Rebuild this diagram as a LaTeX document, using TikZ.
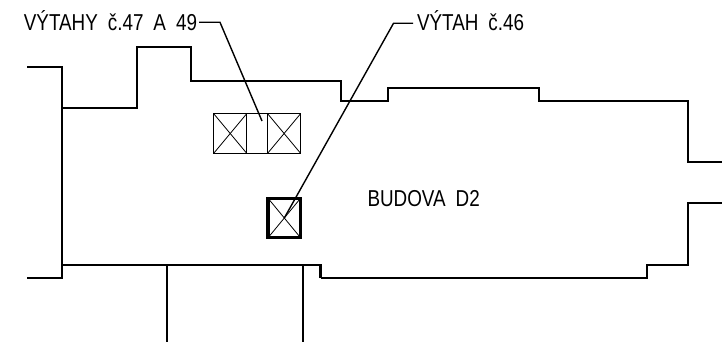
\documentclass[tikz,border=0pt]{standalone}
\usepackage{fontspec}
\setmainfont[FakeStretch=0.82,WordSpace=1.9]{Liberation Sans}

\begin{document}
\begin{tikzpicture}[
	x=1pt, y=-1pt
	,wall/.style={line width=2.8pt, black}
	,inner/.style={line width=2.3pt, black}
	,leader/.style={line width=1.4pt, black}
	,lbl/.style={font=\fontsize{23}{23}\selectfont, inner sep=0pt, outer sep=0pt}
	,shaft/.style={draw, line width=.9pt, rectangle, inner sep=0pt, outer sep=0pt, minimum height=40pt}
	,lift/.style={shaft, minimum width=33.3pt, path picture={
		\draw [line width=.8pt] (path picture bounding box.north west) -- (path picture bounding box.south east);
		\draw [line width=.8pt] (path picture bounding box.south west) -- (path picture bounding box.north east);
	}}
]
	\useasboundingbox (0,0) rectangle (722,342);

	% outer walls
	\draw [wall] (27,67) -- (62,67) -- (62,278) -- (27,278);
	\draw [wall] (62,108) -- (137,108) -- (137,47) -- (191,47) -- (191,81) -- (341,81) -- (341,101)
		-- (388,101) -- (388,88) -- (539,88) -- (539,101) -- (688,101) -- (688,162) -- (722,162);
	\draw [wall] (722,203) -- (688,203) -- (688,265) -- (647,265) -- (647,278) -- (320.5,278);
	\draw [inner] (320.5,278) -- (320.5,265) -- (62,265);
	\draw [wall] (167,265) -- (167,342);
	\draw [inner] (303,265) -- (303,342);

	% lifts
	\node [lift] (L47) at (230.2,133.5) {};
	\node [shaft, minimum width=20.8pt] (Gap) at (257.1,133.5) {};
	\node [lift] (L49) at (284.1,133.5) {};
	\node [lift, line width=3.4pt, minimum width=32.5pt, minimum height=39.5pt] (L46) at (284.3,218) {};

	% labels
	\node [lbl, anchor=base east] (T47) at (197,31) {VÝTAHY č.47 A 49};
	\node [lbl, anchor=base west] (T46) at (417,31) {VÝTAH č.46};
	\node [lbl, anchor=base west] (TD2) at (367.5,206) {BUDOVA D2};

	% leaders
	\coordinate (E47) at (262,121);
	\coordinate (K47) at (220,22.3);
	\coordinate (K46) at (393.5,23.3);
	\draw [leader] (199,22.3) -- (K47) -- (E47);
	\draw [leader] (413,23.3) -- (K46) -- (L46.center);
\end{tikzpicture}
\end{document}
